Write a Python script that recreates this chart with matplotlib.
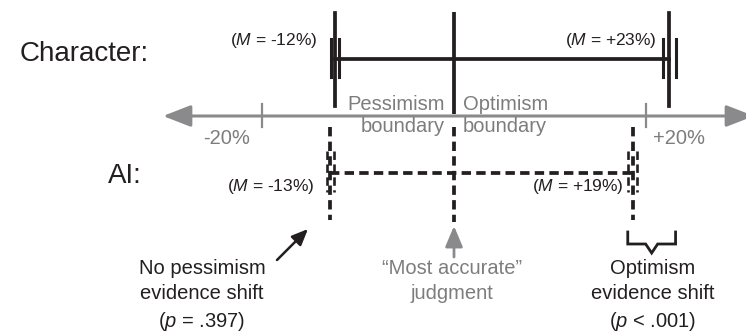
import numpy as np
import matplotlib
matplotlib.use("Agg")
import matplotlib.pyplot as plt
from matplotlib.patches import FancyArrowPatch

plt.rcParams['font.family'] = ['Liberation Sans', 'DejaVu Sans']
plt.rcParams['mathtext.fontset'] = 'custom'
plt.rcParams['mathtext.rm'] = 'Liberation Sans'
plt.rcParams['mathtext.it'] = 'Liberation Sans:italic'

# data (percent shift of judgment)
row_labels = ["Character:", "AI:"]
char_means = [-12.4, 22.4]
char_err = [0.42, 0.68]
ai_means = [-12.9, 18.6]
ai_err = [0.36, 0.5]
char_mean_labels = ["-12%", "+23%"]
ai_mean_labels = ["-13%", "+19%"]
tick_vals = [-20, 20]
tick_labels = ["-20%", "+20%"]
p_pess = "= .397"
p_opt = "< .001"

BLACK = '#231f20'
GRAY = '#8a8a8c'
TGRAY = '#7d7d7f'

# layout (pixel rows, x scale is percent)
Y_CHAR, Y_AI, Y_AXIS = 59, 173, 116
PX = 9.6  # pixels per percent
LW = 2.7


def px(n):
    return n / PX


fig = plt.figure(figsize=(7.46, 3.34), dpi=100)
ax = fig.add_axes([0, 0, 1, 1])
ax.set_xlim(-454 / PX, (746 - 454) / PX)
ax.set_ylim(334, 0)
ax.axis('off')

# horizontal axis with arrows
arr = FancyArrowPatch((px(163 - 454), Y_AXIS), (px(754 - 454), Y_AXIS),
                      arrowstyle='<|-|>,head_length=0.85,head_width=0.33',
                      mutation_scale=20, color=GRAY, lw=2.2,
                      shrinkA=0, shrinkB=0)
ax.add_patch(arr)
for v, lab in zip(tick_vals, tick_labels):
    ax.plot([v, v], [Y_AXIS - 12, Y_AXIS + 11], color=GRAY, lw=1.6)
    ax.text(v + px(-35 if v < 0 else 33), 139, lab, color=TGRAY, fontsize=14.5,
            ha='center', va='center')

# boundary labels
ax.text(px(-9), 104, "Pessimism", color=TGRAY, fontsize=14.5, ha='right', va='center')
ax.text(px(-9), 127, "boundary", color=TGRAY, fontsize=14.5, ha='right', va='center')
ax.text(px(9), 104, "Optimism", color=TGRAY, fontsize=14.5, ha='left', va='center')
ax.text(px(9), 127, "boundary", color=TGRAY, fontsize=14.5, ha='left', va='center')

dash = (0, (2.5, 1.4))

# center line
ax.plot([0, 0], [12, Y_AXIS - 2], color=BLACK, lw=LW, solid_capstyle='butt')
ax.plot([0, 0], [127, 222], color=BLACK, lw=LW, ls=dash)

# row labels
ax.text(px(20 - 454), 54, row_labels[0], fontsize=20, color=BLACK, ha='left', va='center')
ax.text(px(108 - 454), 176, row_labels[1], fontsize=20, color=BLACK, ha='left', va='center')

# character row
ax.plot(char_means, [Y_CHAR, Y_CHAR], color=BLACK, lw=LW)
for m, e in zip(char_means, char_err):
    ax.plot([m, m], [Y_CHAR - 46, Y_CHAR + 47], color=BLACK, lw=LW)
    for s in (m - e, m + e):
        ax.plot([s, s], [Y_CHAR - 20, Y_CHAR + 18], color=BLACK, lw=2.2)

# AI row
ax.plot(ai_means, [Y_AI, Y_AI], color=BLACK, lw=LW, ls=dash)
for m, e in zip(ai_means, ai_err):
    ax.plot([m, m], [Y_AI - 46, Y_AI + 47], color=BLACK, lw=LW, ls=dash)
    for s in (m - e, m + e):
        ax.plot([s, s], [Y_AI - 22, Y_AI + 19], color=BLACK, lw=1.9,
                ls=(0, (3.2, 1.7)))

# mean labels
offs = [14, 6]
for m, e, lab, o in zip(char_means, char_err, char_mean_labels, offs):
    ax.text(m - e - px(o), 40, r"($\it{M}$ = " + lab + ")", fontsize=12.5,
            color=BLACK, ha='right', va='center')
for m, e, lab, o in zip(ai_means, ai_err, ai_mean_labels, offs):
    ax.text(m - e - px(o - 2), 187, r"($\it{M}$ = " + lab + ")", fontsize=12.5,
            color=BLACK, ha='right', va='center')

# annotations
ax.annotate("", xy=(px(308 - 454), 229), xytext=(px(277 - 454), 260),
            arrowprops=dict(arrowstyle='-|>,head_length=0.7,head_width=0.3',
                            mutation_scale=14, color=BLACK, lw=1.8,
                            shrinkA=0, shrinkB=0))
ax.text(px(202 - 454), 259, "No pessimism\nevidence shift\n($\\it{p}$ " + p_pess + ")",
        fontsize=14.5, color=BLACK, ha='center', va='top', linespacing=1.42)

ax.annotate("", xy=(0, 226), xytext=(0, 257),
            arrowprops=dict(arrowstyle='-|>,head_length=0.9,head_width=0.38',
                            mutation_scale=14, color=GRAY, lw=2.0,
                            shrinkA=0, shrinkB=0))
ax.text(px(-2), 259, "\u201cMost accurate\u201d\njudgment", fontsize=14.5,
        color=TGRAY, ha='center', va='top', linespacing=1.42)

# brace for optimism shift
b0 = ai_means[1] - ai_err[1]
b1 = char_means[1] + char_err[1]
bm = (b0 + b1) / 2
bx = [b0, b0, bm - px(6), bm, bm + px(6), b1, b1]
by = [232, 244, 244, 253, 244, 244, 232]
ax.plot(bx, by, color=BLACK, lw=2.0, solid_joinstyle='miter')
ax.text(px(653 - 454), 259, "Optimism\nevidence shift\n($\\it{p}$ " + p_opt + ")",
        fontsize=14.5, color=BLACK, ha='center', va='top', linespacing=1.42)

fig.savefig("out.png", dpi=100)
